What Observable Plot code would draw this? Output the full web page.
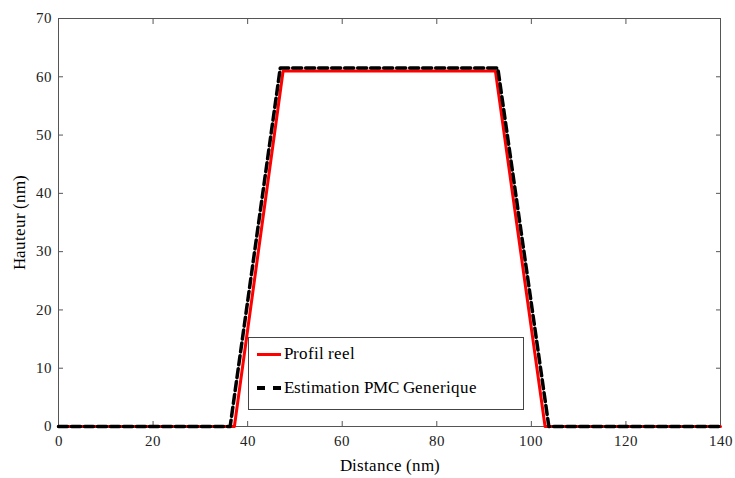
<!DOCTYPE html>
<html>
<head>
<meta charset="utf-8">
<script src="https://cdn.jsdelivr.net/npm/d3@7"></script>
<script src="https://cdn.jsdelivr.net/npm/@observablehq/plot@0.6"></script>
<style>
  @font-face { font-family: "ChartSerif"; src: local("Liberation Serif"), local("LiberationSerif"), local("Liberation Serif Regular"), local("LiberationSerif-Regular"); }
  body { margin: 0; background: #fff; }
</style>
</head>
<body>
<div id="wrap" style="position:relative;width:735px;height:478px;font-family:ChartSerif,'Liberation Serif',serif"></div>
<script>
const reelX = [0, 37.2, 47.5, 92.4, 102.9, 140];
const reelY = [0, 0, 61.0, 61.0, 0, 0];
const estX = [0, 36.3, 46.9, 92.9, 103.7, 140];
const estY = [0, 0, 61.5, 61.5, 0, 0];
const xTicks = [0, 20, 40, 60, 80, 100, 120, 140];
const yTicks = [0, 10, 20, 30, 40, 50, 60, 70];
const seriesNames = ["Profil reel", "Estimation PMC Generique"];

const reel = reelX.map((x, i) => ({x, y: reelY[i]}));
const est = estX.map((x, i) => ({x, y: estY[i]}));
const FONT = "ChartSerif, 'Liberation Serif', serif";

const chart = Plot.plot({
  width: 735,
  height: 478,
  marginLeft: 58,
  marginRight: 15,
  marginTop: 18,
  marginBottom: 52,
  style: {fontFamily: FONT, fontSize: "15px", color: "#222", background: "#fff"},
  x: {domain: [0, 140]},
  y: {domain: [0, 70]},
  marks: [
    Plot.frame({stroke: "#555", strokeWidth: 1}),
    Plot.axisX(xTicks, {anchor: "bottom", tickSize: -5, tickPadding: 14, stroke: "#555", fill: "#222", fontSize: 15, label: "Distance (nm)", labelAnchor: "center", labelArrow: "none", labelOffset: 44}),
    Plot.axisX(xTicks, {anchor: "top", tickSize: -5, text: null, label: null, stroke: "#555"}),
    Plot.axisY(yTicks, {anchor: "left", tickSize: -5, tickPadding: 12, stroke: "#555", fill: "#222", fontSize: 15, label: "Hauteur (nm)", labelAnchor: "center", labelArrow: "none", labelOffset: 46}),
    Plot.axisY(yTicks, {anchor: "right", tickSize: -5, text: null, label: null, stroke: "#555"}),
    Plot.line(reel, {x: "x", y: "y", stroke: "#ff0000", strokeWidth: 3}),
    Plot.line(est, {x: "x", y: "y", stroke: "#000", strokeWidth: 3.5, strokeDasharray: "9,4"})
  ]
});
chart.querySelectorAll("text").forEach(t => { t.style.fontFamily = FONT; });
chart.querySelectorAll("g[aria-label='x-axis label'] text, g[aria-label='y-axis label'] text").forEach(t => {
  t.style.fontSize = "17px";
  t.setAttribute("fill", "#000");
});
const wrap = document.getElementById("wrap");
wrap.appendChild(chart);
const legend = document.createElement("div");
legend.setAttribute("style", `position:absolute;left:248px;top:337px;width:276px;height:73px;border:1px solid #444;background:#fff;box-sizing:border-box;font-size:17px;color:#000;font-family:${FONT}`);
legend.innerHTML = `
  <div style="position:absolute;left:8px;top:6px;display:flex;align-items:center"><span style="display:inline-block;width:24px;height:0;margin-right:3px;border-top:3px solid #ff0000"></span><span>${seriesNames[0]}</span></div>
  <div style="position:absolute;left:8px;top:40px;display:flex;align-items:center"><span style="display:inline-block;width:24px;height:0;margin-right:3px;border-top:4px dashed #000"></span><span>${seriesNames[1]}</span></div>`;
wrap.appendChild(legend);
</script>
</body>
</html>
